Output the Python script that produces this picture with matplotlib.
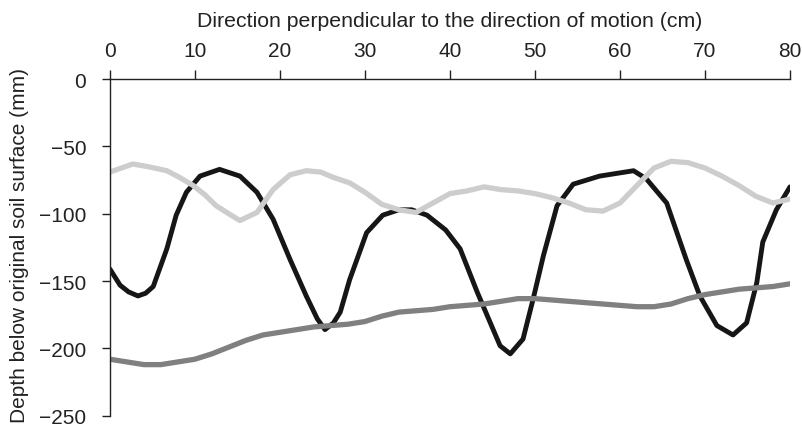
import numpy as np
import matplotlib.pyplot as plt

plt.rcParams['font.family'] = ['Liberation Sans', 'DejaVu Sans']

# black profile
x_black = [0, 1.2, 2.2, 3.3, 4.2, 5.1, 6.7, 7.8, 9.0, 10.6, 12.9, 15.3, 17.3, 19.2, 21.2, 23.1, 24.4, 25.3,
           26.3, 27.1, 28.2, 30.2, 32.1, 34.0, 35.5, 37.3, 39.5, 41.2, 43.2, 45.9, 47.1, 48.6, 49.8, 51.0,
           52.6, 54.5, 57.6, 61.6, 63.1, 65.5, 67.8, 69.4, 71.4, 73.3, 74.9, 76.1, 76.8, 78.4, 80]
y_black = [-141, -153, -158, -161, -159, -154, -126, -101, -84, -72, -67, -72, -84, -104, -134, -161, -178, -186,
           -181, -173, -149, -114, -101, -97, -97, -101, -112, -126, -158, -198, -204, -193, -163, -131,
           -94, -78, -72, -68, -74, -92, -134, -161, -183, -190, -181, -151, -121, -97, -80]

# light grey profile
x_light = [0, 2.7, 4.5, 6.7, 8.2, 9.8, 11.2, 12.5, 14.0, 15.3, 17.3, 19.2, 21.2, 23.1, 24.8, 26.3, 28.2, 30,
           32, 34, 36, 38, 40, 42, 44, 46, 48, 50, 52, 54, 56, 58, 60, 62, 64, 66, 68, 70, 72, 74, 76, 78, 80]
y_light = [-69, -63, -65, -68, -73, -79, -86, -94, -100, -105, -99, -82, -71, -68, -69, -73, -77, -84,
           -93, -97, -99, -92, -85, -83, -80, -82, -83, -85, -88, -92, -97, -98, -92, -79, -66, -61, -62,
           -66, -72, -79, -87, -92, -89]

# mid grey profile
x_mid = list(range(0, 82, 2))
y_mid = [-208, -210, -212, -212, -210, -208, -204, -199, -194, -190, -188, -186, -184, -183, -182, -180,
         -176, -173, -172, -171, -169, -168, -167, -165, -163, -163, -164, -165, -166, -167, -168, -169,
         -169, -167, -163, -160, -158, -156, -155, -154, -152]

fig = plt.figure(figsize=(8.02, 4.31), dpi=100)
ax = fig.add_axes([0.137, 0.033, 0.848, 0.781])

ax.plot(x_black, y_black, color='#161616', lw=3.5, solid_joinstyle='round', solid_capstyle='round')
ax.plot(x_mid, y_mid, color='#808080', lw=3.8, solid_joinstyle='round')
ax.plot(x_light, y_light, color='#cdcdcd', lw=3.8, solid_joinstyle='round')

ax.set_xlim(0, 80)
ax.set_ylim(-250, 0)
ax.set_xticks(range(0, 81, 10))
ax.set_yticks(range(-250, 1, 50))
ax.set_yticklabels(['\u2212250', '\u2212200', '\u2212150', '\u2212100', '\u221250', '0'])

ax.xaxis.tick_top()
ax.xaxis.set_label_position('top')
ax.spines['right'].set_visible(False)
ax.spines['bottom'].set_visible(False)
ax.spines['top'].set_position(('data', 0))
for s in ['top', 'left']:
    ax.spines[s].set_linewidth(1.0)
    ax.spines[s].set_color('#222222')

ax.tick_params(axis='x', direction='out', length=6.5, width=1.0, pad=7, labelsize=15, colors='#222222')
ax.tick_params(axis='y', direction='out', length=6, width=1.0, pad=11, labelsize=15, colors='#222222')

ax.set_xlabel('Direction perpendicular to the direction of motion (cm)', fontsize=15.3, labelpad=11, color='#222222')
ax.set_ylabel('Depth below original soil surface (mm)', fontsize=15, color='#222222')
ax.yaxis.set_label_coords(-0.119, 0.51)

fig.savefig('out.png', dpi=100)
